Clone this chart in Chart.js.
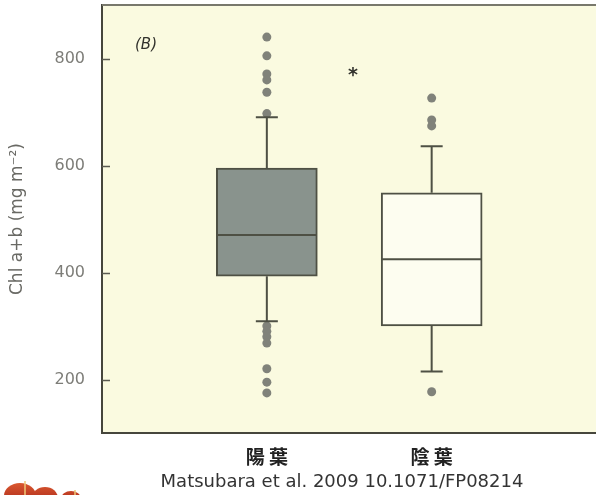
<!DOCTYPE html>
<html>
<head>
<meta charset="utf-8">
<script src="https://cdn.jsdelivr.net/npm/chart.js@4.4.1/dist/chart.umd.min.js"></script>
<style>
  html, body { margin: 0; padding: 0; background: #ffffff; }
  #wrap { position: relative; width: 596px; height: 495px; overflow: hidden; }
  #chart { position: absolute; left: 0; top: 0; }
  #source {
    position: absolute; left: 0; top: 472px; width: 684px;
    text-align: center; white-space: nowrap;
    font: 18px "DejaVu Sans", sans-serif; color: #333333; line-height: 1;
  }
</style>
</head>
<body>
<div id="wrap">
  <canvas id="chart" width="601" height="495"></canvas>
  <div id="source">Matsubara et al. 2009 10.1071/FP08214</div>
</div>
<script>
// Chlorophyll a+b per leaf area, sun leaves vs shade leaves
const groups = ['陽葉', '陰葉'];
const q1 = [393, 300];
const median = [470, 425];
const q3 = [595, 549];
const whiskerLow = [309, 215];
const whiskerHigh = [690, 636];
const outliersSun = [840, 805, 771, 760, 737, 697, 300, 290, 280, 268, 220, 195, 175];
const outliersShade = [726, 685, 674, 177];
const yTicks = [200, 400, 600, 800];

const boxFills = ['rgb(137,147,141)', 'rgb(253,253,240)'];
const inkColor = 'rgb(78,80,68)';
const dotColor = 'rgb(128,130,122)';
const plotBg = 'rgb(250,250,224)';

// slots 0 and 3 are empty so the two boxes sit at 1/3 and 2/3 of the axis
const labels = ['', ...groups, ''];
const boxData = labels.map((l, i) => {
  const g = groups.indexOf(l);
  return g < 0 ? null : [q1[g], q3[g]];
});
const boxColors = labels.map(l => {
  const g = groups.indexOf(l);
  return g < 0 ? 'rgba(0,0,0,0)' : boxFills[g];
});

const boxDecor = {
  id: 'boxDecor',
  beforeDraw(chart) {
    const { ctx, chartArea: a } = chart;
    ctx.save();
    ctx.fillStyle = plotBg;
    ctx.fillRect(a.left, a.top, a.right - a.left, a.bottom - a.top);
    ctx.restore();
  },
  afterDatasetsDraw(chart) {
    const { ctx, scales: { x, y } } = chart;
    const capHalf = 11;
    ctx.save();
    ctx.strokeStyle = inkColor;
    ctx.lineWidth = 2;
    groups.forEach((g, i) => {
      const cx = x.getPixelForValue(labels.indexOf(g));
      const half = 50;
      // whisker stems
      ctx.beginPath();
      ctx.moveTo(cx, y.getPixelForValue(q3[i]));
      ctx.lineTo(cx, y.getPixelForValue(whiskerHigh[i]));
      ctx.moveTo(cx, y.getPixelForValue(q1[i]));
      ctx.lineTo(cx, y.getPixelForValue(whiskerLow[i]));
      ctx.stroke();
      // caps
      ctx.beginPath();
      [whiskerHigh[i], whiskerLow[i]].forEach(v => {
        const py = y.getPixelForValue(v);
        ctx.moveTo(cx - capHalf, py);
        ctx.lineTo(cx + capHalf, py);
      });
      ctx.stroke();
      // median
      const my = y.getPixelForValue(median[i]);
      ctx.beginPath();
      ctx.moveTo(cx - half, my);
      ctx.lineTo(cx + half, my);
      ctx.stroke();
    });
    ctx.restore();
  },
  afterDraw(chart) {
    const { ctx, chartArea: a, scales: { y } } = chart;
    ctx.save();
    // frame line along the top
    ctx.strokeStyle = 'rgb(120,120,108)';
    ctx.lineWidth = 2;
    ctx.beginPath();
    ctx.moveTo(a.left, a.top);
    ctx.lineTo(a.right, a.top);
    ctx.stroke();
    // inward tick marks on the value axis
    ctx.strokeStyle = 'rgb(90,90,80)';
    ctx.lineWidth = 1.5;
    ctx.beginPath();
    yTicks.forEach(v => {
      const py = Math.round(y.getPixelForValue(v)) + 0.5;
      ctx.moveTo(a.left, py);
      ctx.lineTo(a.left + 8, py);
    });
    ctx.stroke();
    // panel tag and significance mark
    ctx.fillStyle = 'rgb(50,50,45)';
    ctx.font = 'italic 15px "DejaVu Sans"';
    ctx.textAlign = 'left';
    ctx.textBaseline = 'middle';
    ctx.fillText('(B)', a.left + 33, a.top + 40);
    ctx.font = 'bold 19px "DejaVu Sans"';
    ctx.textAlign = 'center';
    ctx.fillText('*', 353, a.top + 71);
    // publisher mark, bottom left corner
    const grad = ctx.createLinearGradient(0, 480, 0, 495);
    grad.addColorStop(0, 'rgb(225,95,50)');
    grad.addColorStop(1, 'rgb(190,60,35)');
    ctx.fillStyle = grad;
    ctx.beginPath();
    ctx.ellipse(20, 496, 16, 13, 0, Math.PI, 2 * Math.PI);
    ctx.fill();
    ctx.beginPath();
    ctx.ellipse(45, 498, 13, 11, 0, Math.PI, 2 * Math.PI);
    ctx.fill();
    ctx.beginPath();
    ctx.ellipse(71, 499, 10, 8, 0, Math.PI, 2 * Math.PI);
    ctx.fill();
    ctx.strokeStyle = 'rgb(240,200,120)';
    ctx.lineWidth = 1.5;
    ctx.beginPath();
    ctx.moveTo(25, 481); ctx.lineTo(25, 495);
    ctx.moveTo(75, 490); ctx.lineTo(75, 495);
    ctx.stroke();
    ctx.restore();
  }
};

new Chart(document.getElementById('chart'), {
  type: 'bar',
  data: {
    labels: labels,
    datasets: [
      {
        type: 'line',
        label: 'outliers sun',
        data: outliersSun.map(v => ({ x: groups[0], y: v })),
        showLine: false,
        pointRadius: 4.5,
        pointBackgroundColor: dotColor,
        pointBorderWidth: 0,
        order: 0
      },
      {
        type: 'line',
        label: 'outliers shade',
        data: outliersShade.map(v => ({ x: groups[1], y: v })),
        showLine: false,
        pointRadius: 4.5,
        pointBackgroundColor: dotColor,
        pointBorderWidth: 0,
        order: 0
      },
      {
        type: 'bar',
        label: 'box',
        data: boxData,
        backgroundColor: boxColors,
        borderColor: inkColor,
        borderWidth: 2,
        borderSkipped: false,
        barThickness: 101,
        order: 1
      }
    ]
  },
  options: {
    responsive: false,
    devicePixelRatio: 1,
    animation: false,
    layout: { padding: { left: 0, right: 0, top: 5, bottom: 0 } },
    plugins: {
      legend: { display: false },
      tooltip: { enabled: false },
      title: { display: false }
    },
    scales: {
      x: {
        type: 'category',
        offset: false,
        grid: { display: true, drawOnChartArea: false, drawTicks: false },
        border: { display: true, color: 'rgb(70,70,60)', width: 2 },
        ticks: {
          autoSkip: false,
          maxRotation: 0,
          padding: 12,
          color: '#222222',
          font: { family: '"Noto Sans CJK JP"', size: 19, weight: 'bold' },
          callback: (v, i) => labels[i] ? labels[i].split('').join(' ') : ''
        },
        afterFit: s => { s.height = 62; s.paddingLeft = 0; s.paddingRight = 0; }
      },
      y: {
        type: 'linear',
        min: 100,
        max: 900,
        afterBuildTicks: s => { s.ticks = yTicks.map(v => ({ value: v })); },
        grid: { display: true, drawOnChartArea: false, drawTicks: false },
        border: { display: true, color: 'rgb(70,70,60)', width: 2 },
        ticks: {
          padding: 17,
          color: 'rgb(125,125,120)',
          font: { family: '"DejaVu Sans"', size: 16 }
        },
        title: {
          display: true,
          text: 'Chl a+b (mg m⁻²)',
          color: 'rgb(105,105,100)',
          font: { family: '"DejaVu Sans"', size: 17 },
          padding: { top: 7, bottom: 0 }
        },
        afterFit: s => { s.width = 102; s.paddingTop = 0; s.paddingBottom = 0; }
      }
    }
  },
  plugins: [boxDecor]
});
</script>
</body>
</html>
